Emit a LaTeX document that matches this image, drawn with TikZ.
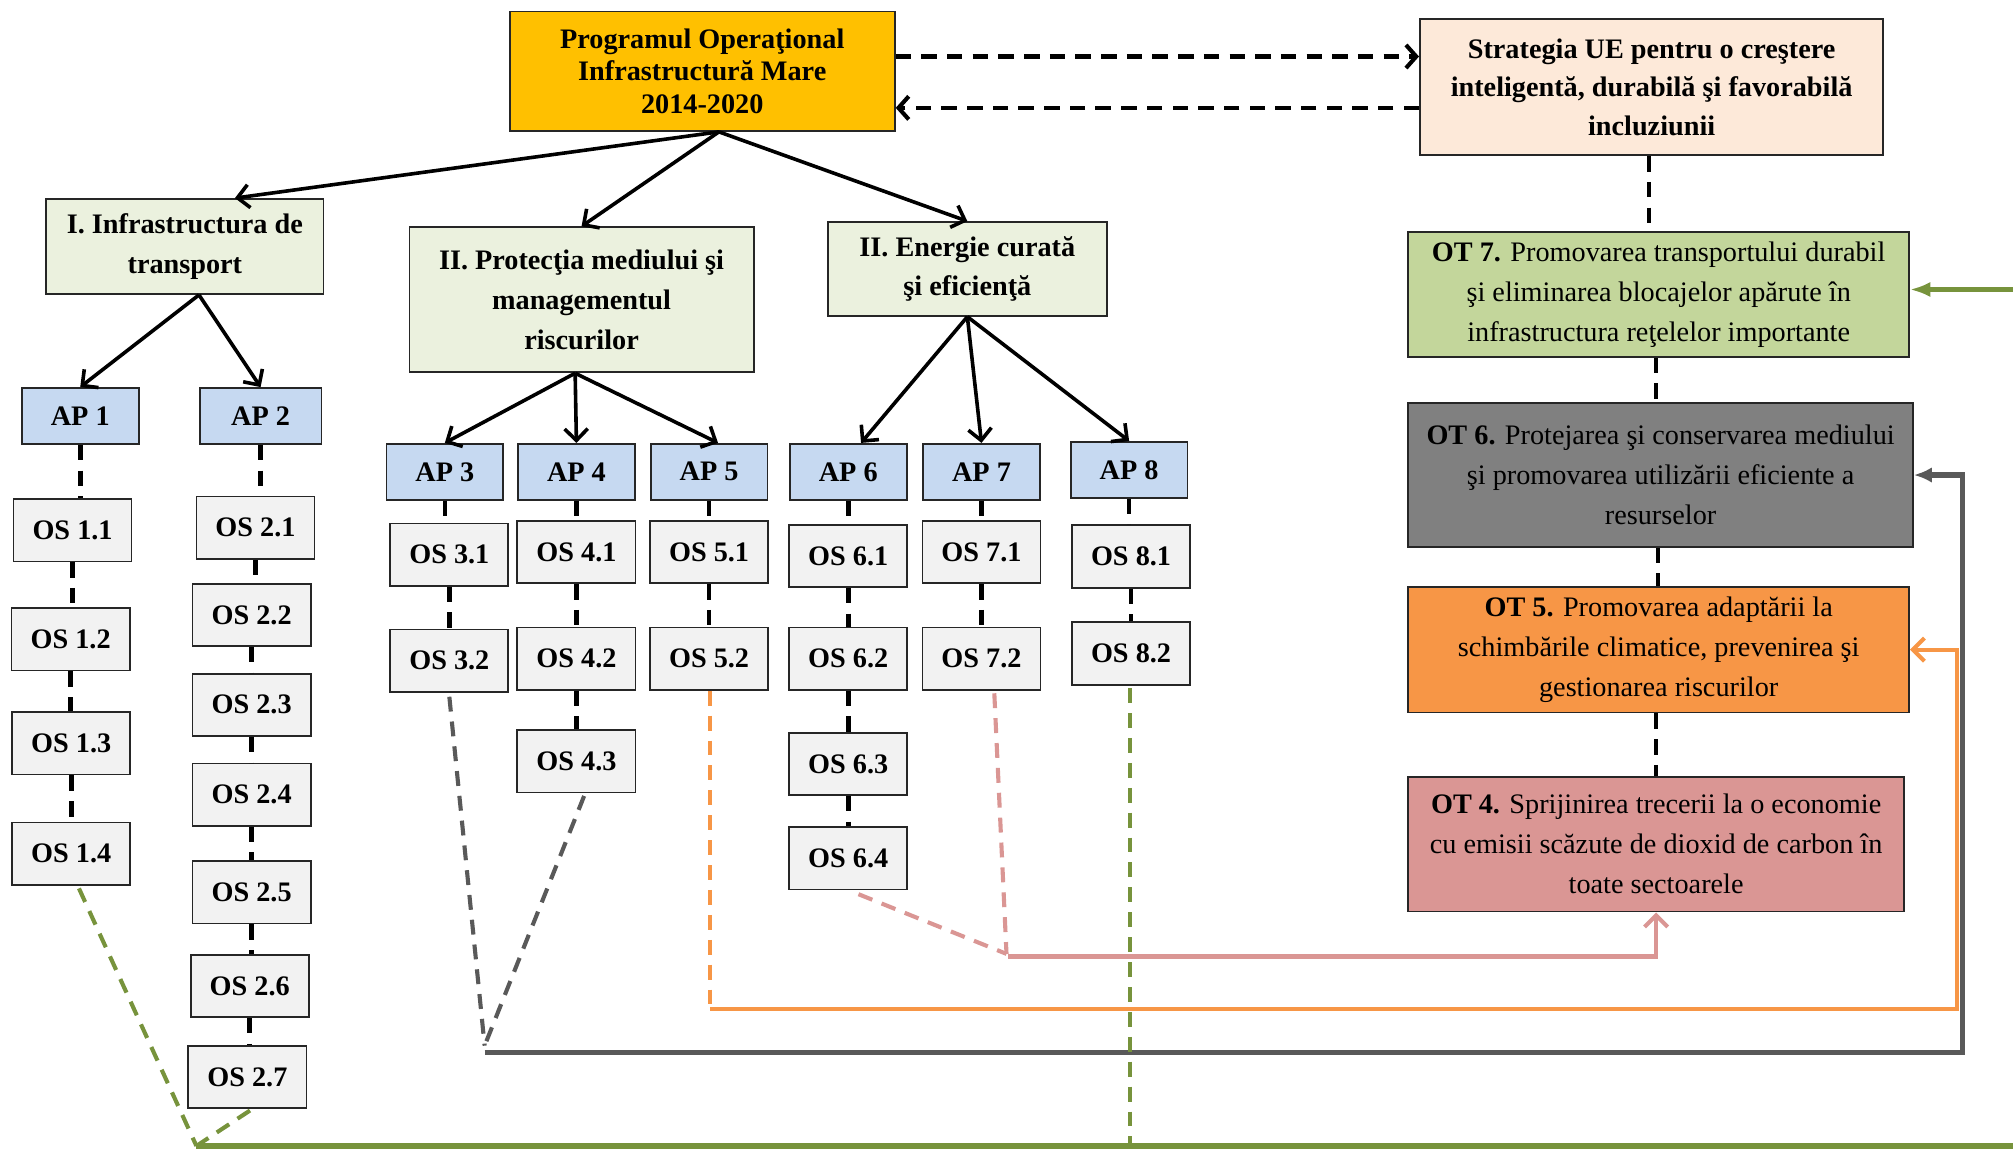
\documentclass[tikz,border=0pt]{standalone}
\usepackage{fontspec}
\setmainfont{Liberation Serif}
\usetikzlibrary{arrows.meta,calc}
\definecolor{cGold}{HTML}{FFC000}
\definecolor{cStrat}{HTML}{FDE9D9}
\definecolor{cCat}{HTML}{EBF1DE}
\definecolor{cAP}{HTML}{C6D9F1}
\definecolor{cOS}{HTML}{F2F2F2}
\definecolor{cOTs}{HTML}{C3D69B}
\definecolor{cOTsx}{HTML}{808080}
\definecolor{cOTc}{HTML}{F79646}
\definecolor{cOTp}{HTML}{DA9694}
\definecolor{cLgray}{HTML}{595959}
\definecolor{cLgreen}{HTML}{77933C}
\definecolor{cLpink}{HTML}{DA9694}
\definecolor{cLorange}{HTML}{F79646}
\definecolor{cBorder}{HTML}{262626}
\begin{document}
\begin{tikzpicture}[x=0.5pt,y=-0.5pt,
  box/.style={draw=cBorder,line width=0.7pt,inner sep=0pt,align=center,font={\fontsize{11}{15.5}\selectfont}},
  osbox/.style={box,fill=cOS,font={\fontsize{11}{13}\selectfont\bfseries},minimum width=46pt,minimum height=24.3pt},
  apbox/.style={box,fill=cAP,font={\fontsize{11}{13}\selectfont\bfseries},minimum width=45.5pt,minimum height=21.8pt},
  catbox/.style={box,fill=cCat,font={\fontsize{11}{15.5}\selectfont\bfseries}},
  otbox/.style={box},
  arr/.style={line width=1.4pt,-{Straight Barb[length=4.5pt,width=9pt]}},
  blackdash/.style={line width=1.8pt,dash pattern=on 6pt off 4pt},
  topdash/.style={line width=1.6pt,dash pattern=on 6pt off 4pt,-{Straight Barb[length=4pt,width=9pt]}},
  cdash/.style={line width=1.6pt,dash pattern=on 5.8pt off 3.9pt},
  csolid/.style={line width=1.6pt}
]
\useasboundingbox (0,0) rectangle (1568,896);
\clip (0,0) rectangle (1568,896);

% top
\node[box,fill=cGold,font={\fontsize{11}{12.5}\selectfont\bfseries},minimum width=150pt,minimum height=46.5pt] (prog) at (547,55.5)
  {Programul Operaţional\\Infrastructură Mare\\2014-2020};
\node[box,fill=cStrat,font={\fontsize{11}{15}\selectfont\bfseries},minimum width=180.5pt,minimum height=53pt] (strat) at (1286.5,68)
  {Strategia UE pentru o creştere\\inteligentă, durabilă şi favorabilă\\incluziunii};

% OT boxes
\node[otbox,fill=cOTs,minimum width=195pt,minimum height=48.5pt] (ot7) at (1292,229.5)
  {{\bfseries OT 7.} Promovarea transportului durabil\\şi eliminarea blocajelor apărute în\\infrastructura reţelelor importante};
\node[otbox,fill=cOTsx,minimum width=196.5pt,minimum height=56pt] (ot6) at (1293.5,370)
  {{\bfseries OT 6.} Protejarea şi conservarea mediului\\şi promovarea utilizării eficiente a\\resurselor};
\node[otbox,fill=cOTc,minimum width=195pt,minimum height=49pt] (ot5) at (1292,506)
  {{\bfseries OT 5.} Promovarea adaptării la\\schimbările climatice, prevenirea şi\\gestionarea riscurilor};
\node[otbox,fill=cOTp,minimum width=193pt,minimum height=52.5pt] (ot4) at (1290,657.5)
  {{\bfseries OT 4.} Sprijinirea trecerii la o economie\\cu emisii scăzute de dioxid de carbon în\\toate sectoarele};

% categories
\node[catbox,minimum width=108pt,minimum height=37pt] (cat1) at (144,192) {I. Infrastructura de\\transport};
\node[catbox,minimum width=134pt,minimum height=56.5pt] (cat2) at (453,233.5) {II. Protecţia mediului şi\\managementul\\riscurilor};
\node[catbox,minimum width=108.5pt,minimum height=36.5pt] (cat3) at (753.5,209.5) {II. Energie curată\\şi eficienţă};

% AP boxes
\node[apbox] (ap1) at (62.5,324) {AP 1};
\node[apbox,minimum width=47.5pt] (ap2) at (203,324) {AP 2};
\node[apbox] (ap3) at (346.5,367.5) {AP 3};
\node[apbox] (ap4) at (449,367.5) {AP 4};
\node[apbox] (ap5) at (552.3,367.5) {AP 5};
\node[apbox] (ap6) at (660.7,367.5) {AP 6};
\node[apbox] (ap7) at (764.5,367.5) {AP 7};
\node[apbox] (ap8) at (879.5,366) {AP 8};

% OS boxes
\node[osbox] (os11) at (56.5,413) {OS 1.1};
\node[osbox] (os12) at (55,498) {OS 1.2};
\node[osbox] (os13) at (55.5,579) {OS 1.3};
\node[osbox] (os14) at (55.5,665) {OS 1.4};
\node[osbox] (os21) at (199,411) {OS 2.1};
\node[osbox] (os22) at (196,479) {OS 2.2};
\node[osbox] (os23) at (196,549) {OS 2.3};
\node[osbox] (os24) at (196,619) {OS 2.4};
\node[osbox] (os25) at (196,695) {OS 2.5};
\node[osbox] (os26) at (194.5,768) {OS 2.6};
\node[osbox] (os27) at (192.7,839) {OS 2.7};
\node[osbox] (os31) at (350,432) {OS 3.1};
\node[osbox] (os32) at (350,514.7) {OS 3.2};
\node[osbox] (os41) at (449,430) {OS 4.1};
\node[osbox] (os42) at (449,513) {OS 4.2};
\node[osbox] (os43) at (449,593) {OS 4.3};
\node[osbox] (os51) at (552.3,430) {OS 5.1};
\node[osbox] (os52) at (552.3,513) {OS 5.2};
\node[osbox] (os61) at (660.7,433) {OS 6.1};
\node[osbox] (os62) at (660.7,513) {OS 6.2};
\node[osbox] (os63) at (660.7,595) {OS 6.3};
\node[osbox] (os64) at (660.7,668.5) {OS 6.4};
\node[osbox] (os71) at (764.5,430) {OS 7.1};
\node[osbox] (os72) at (764.5,513) {OS 7.2};
\node[osbox] (os81) at (881,433.5) {OS 8.1};
\node[osbox] (os82) at (881,509) {OS 8.2};

% top dashed arrows
\path ([yshift=5.75pt]prog.east) coordinate (pa1);
\path ([yshift=-14.25pt]prog.east) coordinate (pa2);
\draw[topdash] (pa1) -- (pa1 -| strat.west);
\draw[topdash] (pa2 -| strat.west) -- (pa2);

% OT chain
\foreach \a/\b in {strat/ot7,ot7/ot6,ot6/ot5,ot5/ot4}
  \draw[blackdash] ([xshift=-1pt]\a.south) -- ([xshift=-1pt]\a.south |- \b.north);

% solid arrows
\draw[arr] ([xshift=6.5pt]prog.south) -- ([xshift=19.5pt]cat1.north);
\draw[arr] ([xshift=6.5pt]prog.south) -- (cat2.north);
\draw[arr] ([xshift=6.5pt]prog.south) -- (cat3.north);
\draw[arr] ([xshift=5.5pt]cat1.south) -- (ap1.north);
\draw[arr] ([xshift=5.5pt]cat1.south) -- (ap2.north);
\draw[arr] ([xshift=-2.5pt]cat2.south) -- (ap3.north);
\draw[arr] ([xshift=-2.5pt]cat2.south) -- (ap4.north);
\draw[arr] ([xshift=-2.5pt]cat2.south) -- ([xshift=3.5pt]ap5.north);
\draw[arr] (cat3.south) -- ([xshift=5pt]ap6.north);
\draw[arr] (cat3.south) -- (ap7.north);
\draw[arr] (cat3.south) -- (ap8.north);

% black dashed chains
\foreach \a/\b in {ap1/os11,os11/os12,os12/os13,os13/os14,
  ap2/os21,os21/os22,os22/os23,os23/os24,os24/os25,os25/os26,os26/os27,
  ap3/os31,os31/os32,ap4/os41,os41/os42,os42/os43,ap5/os51,os51/os52,
  ap6/os61,os61/os62,os62/os63,os63/os64,ap7/os71,os71/os72,ap8/os81,os81/os82}
  \draw[blackdash] (\a.south) -- (\a.south |- \b.north);

% coloured connectors
\coordinate (gj) at (377.5,814.5);
\coordinate (gj2) at (377.5,819.5);
\draw[cdash,draw=cLgray] ([yshift=-1.5pt]os32.south) -- (gj);
\draw[cdash,draw=cLgray] ([xshift=3pt,yshift=-1pt]os43.south) -- (gj);
\draw[csolid,draw=cLgray,line width=2pt,-{Latex[length=7pt,width=6pt]}] (gj2) -| ([xshift=19pt]ot6.east) -- (ot6.east);

\coordinate (oc) at (553,786);
\draw[cdash,draw=cLorange] ([xshift=0.4pt]os52.south) -- ([xshift=0.4pt]os52.south |- oc);
\draw[csolid,draw=cLorange,-{Straight Barb[length=4.5pt,width=9pt]}] (oc) -| ([xshift=18.5pt]ot5.east) -- (ot5.east);

\coordinate (pc) at (784,743);
\coordinate (pc2) at (785,745);
\draw[cdash,draw=cLpink] ([xshift=4pt,yshift=-1.5pt]os64.south) -- (pc);
\draw[cdash,draw=cLpink] ([xshift=5pt,yshift=-1pt]os72.south) -- (pc);
\draw[csolid,draw=cLpink,-{Straight Barb[length=4.5pt,width=9pt]}] (pc2) -| (ot4.south);

\coordinate (gc) at (153,892.6);
\draw[cdash,draw=cLgreen] ([xshift=3pt,yshift=-1pt]os14.south) -- (gc);
\draw[cdash,draw=cLgreen] ([xshift=1pt,yshift=-0.5pt]os27.south) -- (gc);
\draw[cdash,draw=cLgreen] ([xshift=-0.5pt,yshift=-1pt]os82.south) -- ([xshift=-0.5pt]os82.south |- gc);
\draw[csolid,draw=cLgreen,line width=2pt,-{Latex[length=8pt,width=6pt]}] (gc) -- (1620,892.6) |- ([yshift=2pt]ot7.east);
\end{tikzpicture}
\end{document}
